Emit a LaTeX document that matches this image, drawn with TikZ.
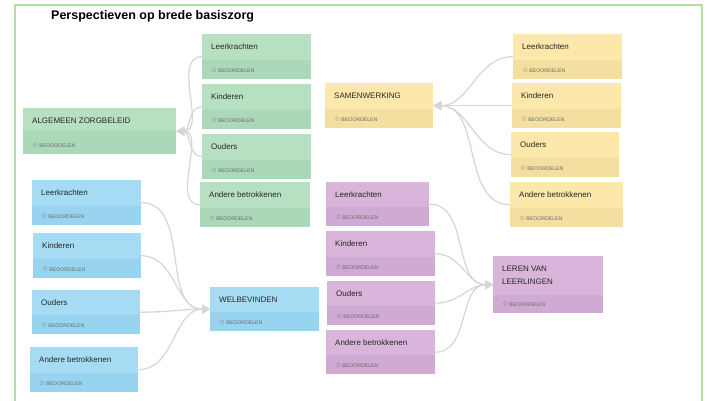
\documentclass[tikz,border=0pt]{standalone}
\usepackage{fontspec}
\setmainfont{Liberation Sans}
\newfontfamily\starfont{DejaVu Sans}
\usepackage{xcolor}
\usetikzlibrary{arrows.meta}

\definecolor{frame}{HTML}{B5DEA4}
\definecolor{greentop}{HTML}{B6E0C1}
\definecolor{greenband}{HTML}{ABD8B8}
\definecolor{yellowtop}{HTML}{FCE8AA}
\definecolor{yellowband}{HTML}{F3DFA0}
\definecolor{bluetop}{HTML}{A5DCF4}
\definecolor{blueband}{HTML}{98D4EF}
\definecolor{purpletop}{HTML}{D9B5DB}
\definecolor{purpleband}{HTML}{CFAAD2}
\definecolor{linegrey}{HTML}{D6D6D6}
\definecolor{textgrey}{HTML}{262626}
\definecolor{rategrey}{HTML}{6A6A6A}

\tikzset{
	bandh/.store in=\bandh, bandh=19,
	card/.style 2 args={rectangle, anchor=north west, inner sep=0pt, fill=#1,
		path picture={\fill[#2] ([yshift=\bandh pt]path picture bounding box.south west) rectangle (path picture bounding box.south east);}},
	gcard/.style={card={greentop}{greenband}},
	ycard/.style={card={yellowtop}{yellowband}},
	bcard/.style={card={bluetop}{blueband}},
	pcard/.style={card={purpletop}{purpleband}},
	cardtitle/.style={anchor=west, inner sep=0pt, text=textgrey, align=left, font=\fontsize{8}{13}\selectfont},
	rating/.style={anchor=west, inner sep=0pt, text=rategrey, font=\fontsize{5.2}{6}\selectfont},
	link/.style={draw=linegrey, line width=1.2pt, -{Triangle[length=8pt,width=9pt]}}
}

% name, colour style, x, y, width, height, title
\newcommand{\card}[7]{%
	\node[#2, minimum width=#5pt, minimum height=#6pt] (#1) at (#3,-#4) {};
	\node[cardtitle] (#1-title) at ([shift={(9,-13)}]#1.north west) {#7};
	\node[rating] (#1-rate) at ([shift={(9,9.5)}]#1.south west) {{\starfont\fontsize{7}{7}\selectfont\char"2606}\,BEOORDELEN};
}

\begin{document}
\begin{tikzpicture}[x=1pt,y=1pt]
		\useasboundingbox (0,0) rectangle (707,-400);
		\fill[white] (0,0) rectangle (707,-400);
		\draw[frame, line width=2pt] (15,-402) -- (15,-5) -- (702,-5) -- (702,-402);

		\node[anchor=west, inner sep=0pt, text=black, font=\fontsize{12.5}{14}\selectfont\bfseries] (title) at (51,-16) {Perspectieven op brede basiszorg};

		% algemeen zorgbeleid
		\card{alg}{gcard, bandh=24}{23}{108}{153}{46}{ALGEMEEN ZORGBELEID}
		\card{gLeer}{gcard}{202}{34}{109}{45}{Leerkrachten}
		\card{gKind}{gcard}{202}{84}{109}{45}{Kinderen}
		\card{gOud}{gcard}{202}{134}{109}{45}{Ouders}
		\card{gAnd}{gcard}{200}{182}{110}{45}{Andere betrokkenen}

		% samenwerking
		\card{sam}{ycard}{325}{83}{108}{45}{SAMENWERKING}
		\card{yLeer}{ycard}{513}{34}{109}{45}{Leerkrachten}
		\card{yKind}{ycard}{512}{83}{109}{45}{Kinderen}
		\card{yOud}{ycard}{511}{132}{108}{45}{Ouders}
		\card{yAnd}{ycard}{510}{182}{113}{45}{Andere betrokkenen}

		% welbevinden
		\card{wel}{bcard}{210}{287}{109}{44}{WELBEVINDEN}
		\card{bLeer}{bcard}{32}{180}{109}{45}{Leerkrachten}
		\card{bKind}{bcard}{33}{233}{108}{45}{Kinderen}
		\card{bOud}{bcard}{32}{290}{108}{44}{Ouders}
		\card{bAnd}{bcard}{30}{347}{108}{45}{Andere betrokkenen}

		% leren van leerlingen
		\node[pcard, bandh=18, minimum width=110pt, minimum height=57pt] (ler) at (493,-256) {};
		\node[cardtitle] (ler-title) at ([shift={(9,-19.5)}]ler.north west) {LEREN VAN\\LEERLINGEN};
		\node[rating] (ler-rate) at ([shift={(9,9)}]ler.south west) {{\starfont\fontsize{7}{7}\selectfont\char"2606}\,BEOORDELEN};
		\card{pLeer}{pcard}{326}{182}{103}{44}{Leerkrachten}
		\card{pKind}{pcard}{326}{231}{109}{45}{Kinderen}
		\card{pOud}{pcard}{327}{281}{108}{44}{Ouders}
		\card{pAnd}{pcard}{326}{330}{109}{44}{Andere betrokkenen}

		\draw[link] (gLeer.west) to[out=180,in=0] (alg.east);
		\draw[link] (gKind.west) to[out=180,in=0] (alg.east);
		\draw[link] (gOud.west) to[out=180,in=0] (alg.east);
		\draw[link] (gAnd.west) to[out=180,in=0] (alg.east);

		\draw[link] (yLeer.west) to[out=180,in=0] (sam.east);
		\draw[link] (yKind.west) to[out=180,in=0] (sam.east);
		\draw[link] (yOud.west) to[out=180,in=0] (sam.east);
		\draw[link] (yAnd.west) to[out=180,in=0] (sam.east);

		\draw[link] (bLeer.east) to[out=0,in=180] (wel.west);
		\draw[link] (bKind.east) to[out=0,in=180] (wel.west);
		\draw[link] (bOud.east) to[out=0,in=180] (wel.west);
		\draw[link] (bAnd.east) to[out=0,in=180] (wel.west);

		\draw[link] (pLeer.east) to[out=0,in=180] (ler.west);
		\draw[link] (pKind.east) to[out=0,in=180] (ler.west);
		\draw[link] (pOud.east) to[out=0,in=180] (ler.west);
		\draw[link] (pAnd.east) to[out=0,in=180] (ler.west);
	\end{tikzpicture}
\end{document}
